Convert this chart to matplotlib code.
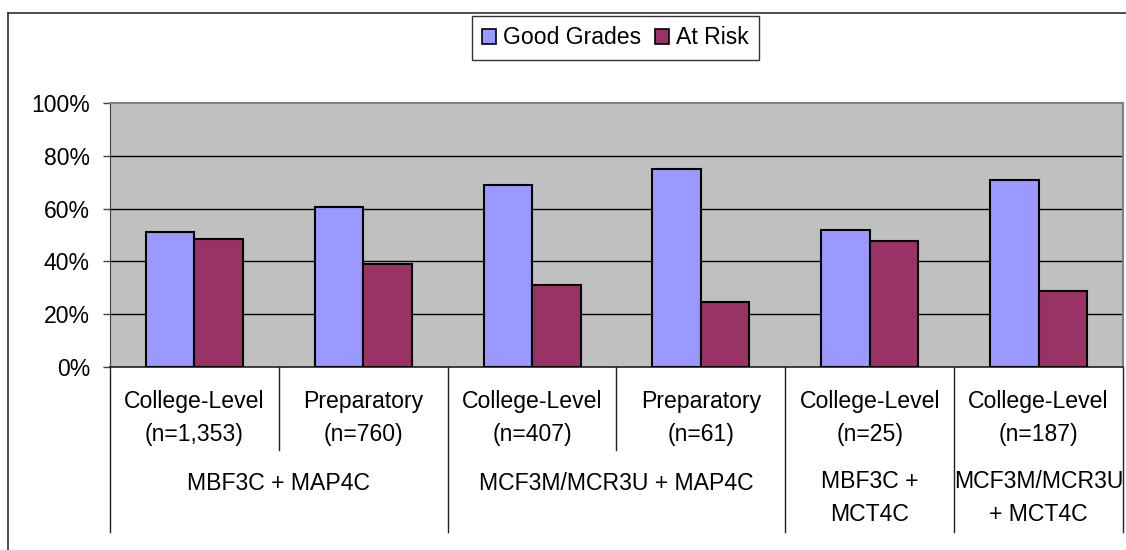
import matplotlib
matplotlib.use("Agg")
import matplotlib.pyplot as plt
from matplotlib.lines import Line2D
from matplotlib.patches import Patch
import numpy as np

plt.rcParams['font.family'] = ['Liberation Sans', 'DejaVu Sans']

# ---- data ----
sub_labels = ["College-Level\n(n=1,353)", "Preparatory\n(n=760)",
              "College-Level\n(n=407)", "Preparatory\n(n=61)",
              "College-Level\n(n=25)", "College-Level\n(n=187)"]
group_labels = ["MBF3C + MAP4C", "MCF3M/MCR3U + MAP4C",
                "MBF3C +\nMCT4C", "MCF3M/MCR3U\n+ MCT4C"]
group_spans = [(0, 1), (2, 3), (4, 4), (5, 5)]
good_grades = [51.3, 60.5, 68.8, 75.0, 51.9, 71.0]
at_risk = [48.4, 39.2, 30.9, 24.5, 47.7, 28.7]
series_names = ["Good Grades", "At Risk"]
yticks = [0, 20, 40, 60, 80, 100]

c_good = "#9999FF"
c_risk = "#993366"
FS = 16.6
LS = 1.55

fig = plt.figure(figsize=(11.26, 5.5), dpi=100)
ax = fig.add_axes([110/1126, 1-367/550, 1013/1126, 264/550])
ax.set_facecolor("#C0C0C0")

x = np.arange(len(sub_labels))
w = 0.287
ax.bar(x - w/2, good_grades, w, color=c_good, edgecolor="black", linewidth=1.5, zorder=3)
ax.bar(x + w/2, at_risk, w, color=c_risk, edgecolor="black", linewidth=1.5, zorder=3)

ax.set_xlim(-0.5, len(sub_labels) - 0.5)
ax.set_ylim(0, 100)
ax.set_yticks(yticks)
ax.set_yticklabels([f"{v}%" for v in yticks], fontsize=FS)
ax.tick_params(axis='y', length=5, width=1, color="#404040", pad=9.4)
ax.set_xticks([])
for v in yticks[1:-1]:
    ax.axhline(v, color="black", linewidth=1, zorder=1)

for s in ["top", "right"]:
    ax.spines[s].set_color("#808080")
    ax.spines[s].set_linewidth(1.5)
ax.spines["left"].set_color("#404040")
ax.spines["bottom"].set_color("#202020")
ax.spines["bottom"].set_linewidth(1.2)

tr = ax.get_xaxis_transform()
H = 264.0
def yax(py):
    return (367 - py) / H

# level-1 labels
for i, lab in enumerate(sub_labels):
    ax.text(i, yax(418), lab, transform=tr, ha="center", va="center",
            fontsize=FS, linespacing=LS, clip_on=False)

# level-2 labels
for lab, (a, b) in zip(group_labels, group_spans):
    cy = 483 if "\n" not in lab else 498
    ax.text((a + b) / 2, yax(cy), lab, transform=tr, ha="center", va="center",
            fontsize=FS, linespacing=LS, clip_on=False)

# separator lines
long_bounds = [-0.5] + [b + 0.5 for (a, b) in group_spans]
short_bounds = []
for (a, b) in group_spans:
    for k in range(a, b):
        short_bounds.append(k + 0.5)
for xb in long_bounds:
    ax.plot([xb, xb], [0, yax(532)], transform=tr, color="#202020", lw=1, clip_on=False)
for xb in short_bounds:
    ax.plot([xb, xb], [0, yax(450)], transform=tr, color="#202020", lw=1, clip_on=False)

# outer frame
fig.add_artist(Line2D([8/1126, 1.0], [1-13/550, 1-13/550], transform=fig.transFigure,
                      color="#303030", lw=1.2))
fig.add_artist(Line2D([8/1126, 8/1126], [1-13/550, 0.0], transform=fig.transFigure,
                      color="#303030", lw=1.2))

handles = [Patch(facecolor=c_good, edgecolor="black", linewidth=1.2),
           Patch(facecolor=c_risk, edgecolor="black", linewidth=1.2)]
leg = fig.legend(handles, series_names, loc="center", bbox_to_anchor=(615.5/1126, 1-38/550),
                 ncol=2, fontsize=FS, frameon=True, fancybox=False, edgecolor="black",
                 handlelength=0.6, handleheight=0.6, handletextpad=0.3, columnspacing=0.6,
                 borderpad=0.45, borderaxespad=0)
leg.get_frame().set_linewidth(1.0)

fig.savefig("out.png", dpi=100)
